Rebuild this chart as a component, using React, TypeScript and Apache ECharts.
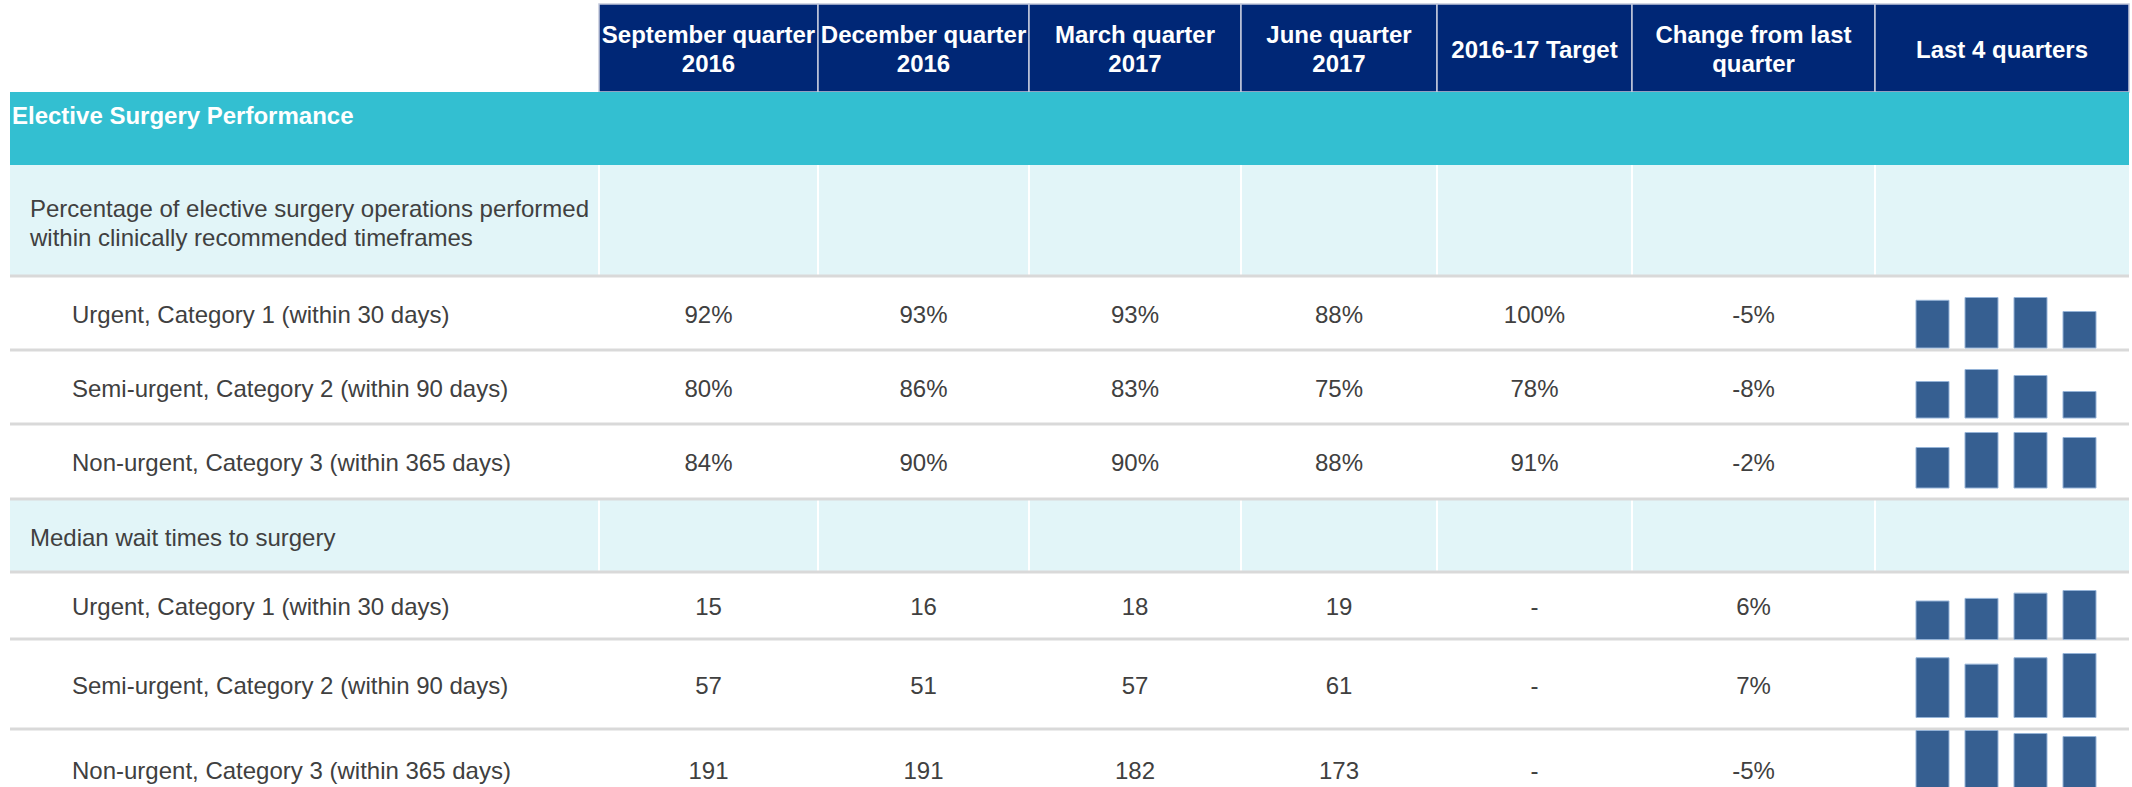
import React, { useEffect, useRef } from 'react';
import * as echarts from 'echarts';

// ---------- data ----------
const headerLabels = [
  'September quarter\n2016',
  'December quarter\n2016',
  'March quarter\n2017',
  'June quarter\n2017',
  '2016-17 Target',
  'Change from last\nquarter',
  'Last 4 quarters',
];
const sectionTitle = 'Elective Surgery Performance';
const groupTitles = [
  'Percentage of elective surgery operations performed\nwithin clinically recommended timeframes',
  'Median wait times to surgery',
];
const categories = [
  'Urgent, Category 1 (within 30 days)',
  'Semi-urgent, Category 2 (within 90 days)',
  'Non-urgent, Category 3 (within 365 days)',
];
const quarterKeys = ['Sep 2016', 'Dec 2016', 'Mar 2017', 'Jun 2017'];

const pctUrgent = [92, 93, 93, 88];
const pctSemi = [80, 86, 83, 75];
const pctNon = [84, 90, 90, 88];
const pctTargets = ['100%', '78%', '91%'];
const pctChange = ['-5%', '-8%', '-2%'];

const waitUrgent = [15, 16, 18, 19];
const waitSemi = [57, 51, 57, 61];
const waitNon = [191, 191, 182, 173];
const waitTargets = ['-', '-', '-'];
const waitChange = ['6%', '7%', '-5%'];

// sparkline value-axis minimums
const sparkAxisMin = [74.8, 61.5, 67.6, 0, 0, 0];

// ---------- layout ----------
const W = 2132;
const H = 787;
const COL = [599, 818, 1029, 1241, 1437, 1632, 1875, 2129];
const LEFT = 10;
const RIGHT = 2129;
const HEAD_TOP = 4;
const HEAD_BOTTOM = 92;
const BAND_BOTTOM = 165;
const ROWS = [
  { kind: 'group', top: 165, bottom: 276 },
  { kind: 'item', top: 276, bottom: 350 },
  { kind: 'item', top: 350, bottom: 424 },
  { kind: 'item', top: 424, bottom: 499 },
  { kind: 'group', top: 499, bottom: 572 },
  { kind: 'item', top: 572, bottom: 639 },
  { kind: 'item', top: 639, bottom: 729 },
  { kind: 'item', top: 729, bottom: 810 },
];
const SPARK = [
  { base: 348, h: 51 },
  { base: 418, h: 49 },
  { base: 488, h: 56 },
  { base: 640, h: 50 },
  { base: 718, h: 65 },
  { base: 794, h: 64 },
];
const SPARK_LEFT = 1908;
const SPARK_WIDTH = 196;

const FONT = '"Liberation Sans", Arial, Helvetica, sans-serif';
const NAVY = '#002776';
const TEAL = '#33BFD1';
const LIGHT = '#E2F5F8';
const TEXT = '#404040';
const SEP = '#D9D9D9';

export default function App() {
  const ref = useRef<HTMLDivElement>(null);

  useEffect(() => {
    document.body.style.margin = '0';
    if (!ref.current) return;
    const chart = echarts.init(ref.current, undefined, { renderer: 'svg' });

    const g: any[] = [];

    // header cells
    for (let i = 0; i < headerLabels.length; i++) {
      const x0 = COL[i];
      const x1 = COL[i + 1];
      g.push({
        type: 'rect',
        shape: { x: x0, y: HEAD_TOP, width: x1 - x0, height: HEAD_BOTTOM - HEAD_TOP },
        style: { fill: NAVY, stroke: '#C3C9DC', lineWidth: 1.5 },
        z: 1,
      });
      g.push({
        type: 'text',
        x: (x0 + x1) / 2,
        y: (HEAD_TOP + HEAD_BOTTOM) / 2 + 1,
        style: {
          text: headerLabels[i],
          fill: '#FFFFFF',
          font: `bold 24px ${FONT}`,
          lineHeight: 29,
          align: 'center',
          verticalAlign: 'middle',
        },
        z: 2,
      });
    }

    // teal band
    g.push({
      type: 'rect',
      shape: { x: LEFT, y: HEAD_BOTTOM, width: RIGHT - LEFT, height: BAND_BOTTOM - HEAD_BOTTOM },
      style: { fill: TEAL },
      z: 1,
    });
    g.push({
      type: 'text',
      x: 12,
      y: 115,
      style: {
        text: sectionTitle,
        fill: '#FFFFFF',
        font: `bold 24px ${FONT}`,
        align: 'left',
        verticalAlign: 'middle',
      },
      z: 2,
    });

    // rows
    const itemLabels = [...categories, ...categories];
    const itemValues = [pctUrgent, pctSemi, pctNon, waitUrgent, waitSemi, waitNon];
    const itemTargets = [...pctTargets, ...waitTargets];
    const itemChange = [...pctChange, ...waitChange];
    const isPct = [true, true, true, false, false, false];

    let gi = 0;
    let ii = 0;
    ROWS.forEach((r) => {
      const cy = (r.top + r.bottom) / 2;
      if (r.kind === 'group') {
        g.push({
          type: 'rect',
          shape: { x: LEFT, y: r.top, width: RIGHT - LEFT, height: r.bottom - r.top },
          style: { fill: LIGHT },
          z: 1,
        });
        for (let c = 0; c < COL.length - 1; c++) {
          g.push({
            type: 'line',
            shape: { x1: COL[c], y1: r.top, x2: COL[c], y2: r.bottom },
            style: { stroke: '#FFFFFF', lineWidth: 2 },
            z: 2,
          });
        }
        g.push({
          type: 'text',
          x: 30,
          y: cy + 2,
          style: {
            text: groupTitles[gi],
            fill: TEXT,
            font: `24px ${FONT}`,
            lineHeight: 29,
            align: 'left',
            verticalAlign: 'middle',
          },
          z: 3,
        });
        gi++;
      } else {
        const cyt = cy + 1;
        g.push({
          type: 'text',
          x: 72,
          y: cyt,
          style: { text: itemLabels[ii], fill: TEXT, font: `24px ${FONT}`, align: 'left', verticalAlign: 'middle' },
          z: 3,
        });
        const vals = itemValues[ii];
        const cells = [
          ...vals.map((v) => (isPct[ii] ? `${v}%` : `${v}`)),
          itemTargets[ii],
          itemChange[ii],
        ];
        cells.forEach((t, c) => {
          g.push({
            type: 'text',
            x: (COL[c] + COL[c + 1]) / 2,
            y: cyt,
            style: { text: t, fill: TEXT, font: `24px ${FONT}`, align: 'center', verticalAlign: 'middle' },
            z: 3,
          });
        });
        ii++;
      }
    });

    // separators
    ROWS.slice(0, -1).forEach((r) => {
      g.push({
        type: 'line',
        shape: { x1: LEFT, y1: r.bottom, x2: RIGHT, y2: r.bottom },
        style: { stroke: SEP, lineWidth: 3 },
        z: 4,
      });
    });

    const sparkData = [pctUrgent, pctSemi, pctNon, waitUrgent, waitSemi, waitNon];
    const grids = SPARK.map((s) => ({
      left: SPARK_LEFT,
      width: SPARK_WIDTH,
      top: s.base - s.h,
      height: s.h,
      containLabel: false,
      outerBoundsMode: 'none',
    }));
    const xAxes = SPARK.map((_, i) => ({
      type: 'category',
      gridIndex: i,
      data: quarterKeys,
      show: false,
      boundaryGap: true,
    }));
    const yAxes = SPARK.map((_, i) => ({
      type: 'value',
      gridIndex: i,
      min: sparkAxisMin[i],
      max: 'dataMax',
      show: false,
      splitLine: { show: false },
    }));
    const series = sparkData.map((d, i) => ({
      type: 'bar',
      xAxisIndex: i,
      yAxisIndex: i,
      data: d,
      barWidth: 34,
      clip: true,
      itemStyle: { color: '#365F91', borderColor: '#95B3D7', borderWidth: 1 },
      z: 10,
      silent: true,
    }));

    chart.setOption({
      animation: false,
      backgroundColor: '#FFFFFF',
      grid: grids,
      xAxis: xAxes,
      yAxis: yAxes,
      series,
      graphic: { elements: g },
    });

    return () => chart.dispose();
  }, []);

  return (
    <div
      ref={ref}
      style={{ position: 'fixed', left: 0, top: 0, width: W, height: H }}
    />
  );
}
